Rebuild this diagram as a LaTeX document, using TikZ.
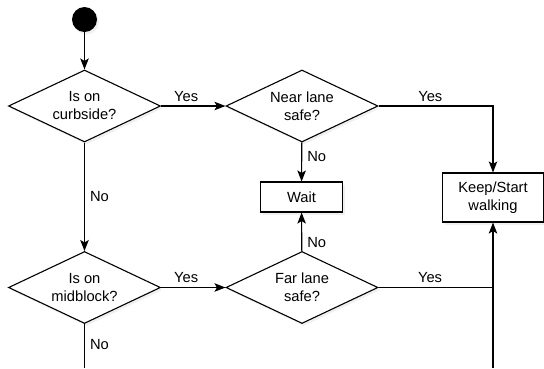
\documentclass[tikz,border=0pt]{standalone}
\usepackage{fontspec}
\setmainfont{Liberation Sans}
\usetikzlibrary{shapes.geometric,arrows.meta,shadows}
\begin{document}
\begin{tikzpicture}[x=1pt,y=-1pt,
  font=\fontsize{14.7}{18}\selectfont,
  every node/.style={inner sep=0pt},
  shad/.style={drop shadow={opacity=0.12, shadow xshift=2pt, shadow yshift=-2.5pt}},
  dec/.style={diamond, draw, fill=white, line width=1.1pt, minimum width=152pt, minimum height=72pt, aspect=2.1, align=center, shad},
  box/.style={rectangle, draw, fill=white, align=center, line width=1.1pt, shad},
  conn/.style={line width=1.1pt, -{Stealth[length=11pt,width=8.5pt,inset=2.5pt]}},
  plain/.style={line width=1.1pt},
  lbl/.style={inner sep=0pt}
]
\useasboundingbox (0,0) rectangle (544,368);

\node[circle, fill=black, minimum size=25pt, shad] (start) at (84.5,19.5) {};
\node[dec] (curb) at (84.5,106) {Is on\\curbside?};
\node[dec] (near) at (302,106) {Near lane\\safe?};
\node[box, minimum width=82pt, minimum height=30pt] (wait) at (301.5,197) {Wait};
\node[box, minimum width=101pt, minimum height=49pt] (keep) at (493,197.5) {Keep/Start\\walking};
\node[dec] (mid) at (84.5,287.5) {Is on\\midblock?};
\node[dec] (far) at (302,287.5) {Far lane\\safe?};
\coordinate (midout) at (84.5,368);
\coordinate (keepin) at (493,368);

\draw[conn] (start) -- (curb);
\draw[conn] (curb) -- node[lbl, above=4pt, pos=0.39]{Yes} (near);
\draw[conn] (near) -| node[lbl, above=4pt, pos=0.226]{Yes} (keep);
\draw[conn] (near) -- node[lbl, right=5pt, pos=0.35]{No} (wait);
\draw[conn] (curb) -- node[lbl, right=5pt]{No} (mid);
\draw[conn] (mid) -- node[lbl, above=4pt, pos=0.39]{Yes} (far);
\draw[conn] (far) -- node[lbl, right=5pt, pos=0.22]{No} (wait);
\draw[plain] (mid) -- node[lbl, right=5pt, pos=0.47]{No} (midout);
\draw[conn] (keepin) -- (keep);
\draw[plain] (far.east) -- node[lbl, above=4pt, pos=0.45]{Yes} (far.east -| keep.south);
\end{tikzpicture}
\end{document}
